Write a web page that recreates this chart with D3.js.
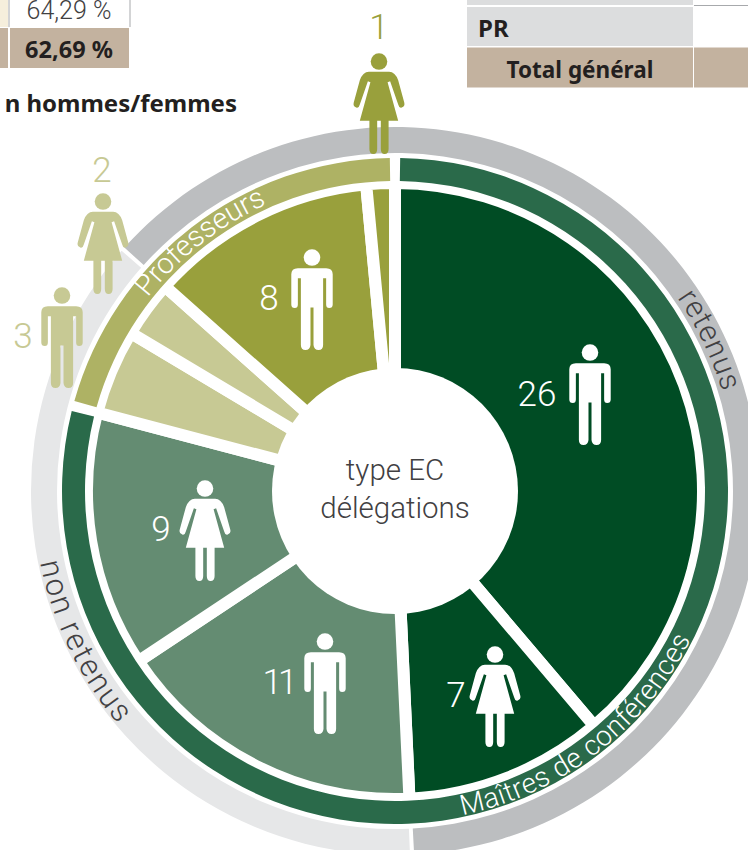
<!DOCTYPE html>
<html><head><meta charset="utf-8">
<script src="https://cdn.jsdelivr.net/npm/d3@7"></script>
<style>
html,body{margin:0;padding:0;background:#fff}
svg{display:block}
text{font-family:Roboto,sans-serif;font-weight:300}
.b{font-family:"Noto Sans",sans-serif;font-weight:700;fill:#231f20}
</style></head><body>
<svg id="c" width="748" height="850"></svg>
<script>
const categories=["MCF H retenus","MCF F retenus","MCF H non retenus","MCF F non retenus","PR H non retenus","PR F non retenus","PR H retenus","PR F retenus"];
const values=[26,7,11,9,3,2,8,1];
const genders=["m","f","m","f","m","f","m","f"];
const wedgeColors=["#004c24","#004c24","#648c72","#648c72","#c7c994","#c7c994","#99a03c","#99a03c"];
const gradeLabels=["Maîtres de conférences","Professeurs"];
const gradeColors=["#2a6a4a","#aeb264"];
const statusLabels=["retenus","non retenus"];
const statusColors=["#bcbec0","#e6e7e8"];
const centerLines=["type EC","délégations"];

const cx=395,cy=491;
const svg=d3.select("#c");
const total=d3.sum(values);
const a=d3.scaleLinear().domain([0,total]).range([0,2*Math.PI]);

// table fragments
const rects=[[0,0,8,27,"#f6efdc"],[0,28,8,40,"#c3b29f"],[10,28,119,40,"#c3b29f"],
[467,0,226,5,"#dcddde"],[467,7,226,39,"#dcddde"],[467,47.500,226,40,"#c3b29f"],[694,47.500,54,40,"#c3b29f"]];
svg.selectAll("rect.t").data(rects).join("rect").attr("class","t")
 .attr("x",d=>d[0]).attr("y",d=>d[1]).attr("width",d=>d[2]).attr("height",d=>d[3]).attr("fill",d=>d[4]);
svg.append("path").attr("d","M9 0V27M130 0V27M694 5.500H748").attr("stroke","#a7a9ac").attr("fill","none");
svg.append("text").attr("x",69).attr("y",19).attr("text-anchor","middle").attr("font-size",25).attr("fill","#414042").text("64,29 %");
svg.append("text").attr("class","b").attr("x",69).attr("y",58).attr("text-anchor","middle").attr("font-size",23.500).text("62,69 %");
svg.append("text").attr("class","b").attr("x",237).attr("y",112).attr("text-anchor","end").attr("font-size",24).text("n hommes/femmes");
svg.append("text").attr("class","b").attr("x",478).attr("y",37).attr("font-size",24).text("PR");
svg.append("text").attr("class","b").attr("x",580).attr("y",78).attr("text-anchor","middle").attr("font-size",22.500).text("Total général");

const g=svg.append("g").attr("transform",`translate(${cx},${cy})`);
let cum=0;const slices=values.map((v,i)=>{const s={i,v,s:a(cum),e:a(cum+v)};cum+=v;return s;});

// wedges
g.selectAll("path.w").data(slices).join("path").attr("class","w")
 .attr("fill",d=>wedgeColors[d.i])
 .attr("d",d=>d3.arc().innerRadius(0).outerRadius(308)
   .startAngle(d.s).endAngle(d.e)())
 .attr("stroke","#fff").attr("stroke-width",12);
g.append("circle").attr("r",123).attr("fill","#fff");

const ringArc=(r0,r1,gapPx)=>d=>{const da=gapPx/((r0+r1)/2)/2;
  return d3.arc().innerRadius(r0).outerRadius(r1).startAngle(d.s+da).endAngle(d.e-da)();};
// outer status ring
const retenusStart=a(d3.sum(values.slice(0,6)))-2*Math.PI;
const retenusEnd=a(values[0]+values[1]);
const statusArcs=[{s:retenusStart,e:retenusEnd,c:statusColors[0]},{s:retenusEnd,e:retenusStart+2*Math.PI,c:statusColors[1]}];
g.selectAll("path.st").data(statusArcs).join("path").attr("class","st").attr("fill",d=>d.c).attr("d",ringArc(338,364,4));
// grade ring
const mcf=d3.sum(values.slice(0,4));
const gradeArcs=[{s:0,e:a(mcf),c:gradeColors[0]},{s:a(mcf),e:2*Math.PI,c:gradeColors[1]}];
g.selectAll("path.gr").data(gradeArcs).join("path").attr("class","gr").attr("fill",d=>d.c).attr("d",ringArc(310,333,10));

centerLines.forEach((t,i)=>g.append("text").attr("y",-11+i*38).attr("text-anchor","middle").attr("font-size",29.500).attr("fill","#414042").text(t));

// curved labels
const defs=svg.append("defs");
function curved(id,r,a0,a1,txt,size,fill,spacing){
 const sweep=a1>a0?1:0;
 const pt=t=>`${cx+r*Math.sin(t)} ${cy-r*Math.cos(t)}`;
 defs.append("path").attr("id",id).attr("d",`M${pt(a0)}A${r} ${r} 0 0 ${sweep} ${pt(a1)}`);
 svg.append("text").attr("font-size",size).attr("fill",fill).attr("letter-spacing",spacing)
  .append("textPath").attr("href","#"+id).text(txt);
}
curved("pPr",314,-0.907,0,gradeLabels[1],29,"#fff",0);
curved("pSt",342,0.97,1.7,statusLabels[0],30,"#414042",1);
curved("pNr",362,-1.77,-2.8,statusLabels[1],31,"#414042",2);
curved("pMc",331,2.936,1.7,gradeLabels[0],28,"#fff",0.500);

// pictograms, 100 units tall
function person(sel,kind,x,y,h,fill){
 const s=h/100,n=sel.append("g").attr("transform",`translate(${x},${y}) scale(${s})`).attr("fill",fill);
 n.append("circle").attr("cy",8.500).attr("r",8.200);
 if(kind==="m"){
  n.append("path").attr("d","M-14 19H14Q20.500 19 20.500 25V55Q20.500 58.500 17 58.500Q14 58.500 14 55V29H11V95Q11 100 6.500 100Q2 100 1.500 95V58H-1.500V95Q-2 100 -6.500 100Q-11 100 -11 95V29H-14V55Q-14 58.500 -17 58.500Q-20.500 58.500 -20.500 55V25Q-20.500 19 -14 19Z");
 }else{
  n.append("path").attr("d","M-10 18.500H10Q16 18.500 19 27L25 49Q26 53 22.500 54Q20 55 19 51L11 28L8.500 29L19 67H9.500V95Q9.500 100 5.500 100Q1.800 100 1.800 95V67H-1.800V95Q-1.800 100 -5.500 100Q-9.500 100 -9.500 95V67H-19L-8.500 29L-11 28L-19 51Q-20 55 -22.500 54Q-26 53 -25 49L-19 27Q-16 18.500 -10 18.500Z");
 }
}
const picX=[590,495,325,205,62,103,312,379];
const picY=[344,646,633,480,287,193,249,53];
const picFill=["#fff","#fff","#fff","#fff","#c7c994","#c7c994","#fff","#99a03c"];
values.forEach((v,i)=>person(svg,genders[i],picX[i],picY[i],101,picFill[i]));
const numX=[537,456,278,161,23,102,269,379];
const numY=[406,707,694,541,348,182,310,39];
svg.selectAll("text.n").data(values).join("text").attr("class","n")
 .attr("x",(d,i)=>numX[i]).attr("y",(d,i)=>numY[i]).attr("text-anchor","middle").attr("font-size",35)
 .attr("letter-spacing",d=>d===11?-4:0)
 .attr("fill",(d,i)=>picFill[i]).text(d=>d);
</script></body></html>
